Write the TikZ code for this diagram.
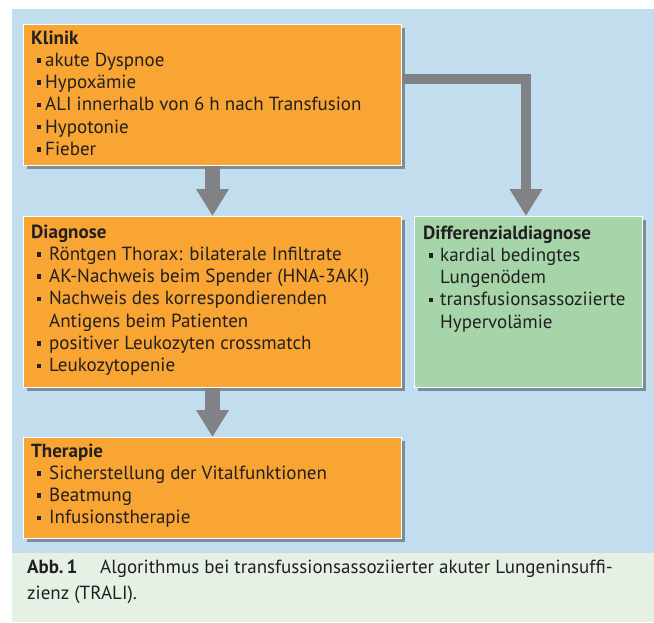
\documentclass[tikz,border=0pt]{standalone}
\usepackage{fontspec}
\setmainfont{PT Sans}
\usetikzlibrary{arrows.meta,shadows}
\definecolor{bluebg}{HTML}{C2DEEE}
\definecolor{capbg}{HTML}{E6F1E5}
\definecolor{orangebox}{HTML}{F8A533}
\definecolor{greenbox}{HTML}{A7D5AA}
\definecolor{arrowgray}{HTML}{808285}
\definecolor{textc}{HTML}{231F20}
\newcommand\bul[1][18pt]{\makebox[#1][l]{\hspace*{5.5pt}\rule[3.8pt]{4.5pt}{4.5pt}}}
\tikzset{
  box/.style={rectangle, draw=white, line width=1pt, anchor=north west, inner sep=0pt,
    drop shadow={shadow xshift=3pt, shadow yshift=-3pt, fill=black!40!bluebg, opacity=0.9}},
  txt/.style={anchor=base west, inner sep=0pt, text=textc, font=\fontsize{19}{22.3}\selectfont},
  vshaft/.style={arrowgray, line width=15pt, -{Triangle[length=27pt,width=31pt]}},
  eshaft/.style={arrowgray, line width=10pt, -{Triangle[length=27pt,width=31pt]}}
}
\begin{document}
\begin{tikzpicture}[x=1pt,y=-1pt]
\useasboundingbox (0,0) rectangle (654,622);
\fill[white] (0,0) rectangle (654,622);
\fill[bluebg] (12,9) rectangle (654,553);
\fill[capbg] (12,553) rectangle (654,622);
% boxes
\node[box, fill=orangebox, minimum width=378pt, minimum height=141pt] (klinik) at (23,24) {};
\node[box, fill=orangebox, minimum width=378pt, minimum height=171pt] (diag) at (23,216) {};
\node[box, fill=orangebox, minimum width=378pt, minimum height=101pt] (ther) at (23,437) {};
\node[box, fill=greenbox, minimum width=228pt, minimum height=171pt] (ddx) at (414,216) {};
% connectors
\coordinate (turn) at (526,79);
\draw[vshaft] (klinik.south) -- (diag.north);
\draw[vshaft] (diag.south) -- (ther.north);
\draw[eshaft, line join=miter] (klinik.east |- turn) -- (turn) -- (ddx.north -| turn);
% texts
\node[txt] (klinikT) at (31,44) {\parbox[t]{365pt}{\textbf{Klinik}\\
\bul[14pt]akute Dyspnoe\\
\bul[14pt]Hypoxämie\\
\bul[14pt]ALI innerhalb von 6 h nach Transfusion\\
\bul[14pt]Hypotonie\\
\bul[14pt]Fieber}};
\node[txt] (diagT) at (31,238) {\parbox[t]{365pt}{\textbf{Diagnose}\\
\bul Röntgen Thorax: bilaterale Infiltrate\\
\bul AK-Nachweis beim Spender (HNA-3AK!)\\
\bul Nachweis des korrespondierenden\\
\hspace*{18pt}Antigens beim Patienten\\
\bul positiver Leukozyten crossmatch\\
\bul Leukozytopenie}};
\node[txt] (therT) at (31,457) {\parbox[t]{365pt}{\textbf{Therapie}\\
\bul Sicherstellung der Vitalfunktionen\\
\bul Beatmung\\
\bul Infusionstherapie}};
\node[txt] (ddxT) at (423,239) {\parbox[t]{215pt}{\textbf{Differenzialdiagnose}\\
\bul[17pt]kardial bedingtes\\
\hspace*{17pt}Lungenödem\\
\bul[17pt]transfusionsassoziierte\\
\hspace*{17pt}Hypervolämie}};
% caption
\node[txt, font=\fontsize{19}{26}\selectfont] (capT) at (27,573) {\parbox[t]{620pt}{\makebox[73pt][l]{\textbf{Abb.\,1}}Algorithmus bei transfussionsassoziierter akuter Lungeninsuffi-\\
zienz (TRALI).}};
\end{tikzpicture}
\end{document}
